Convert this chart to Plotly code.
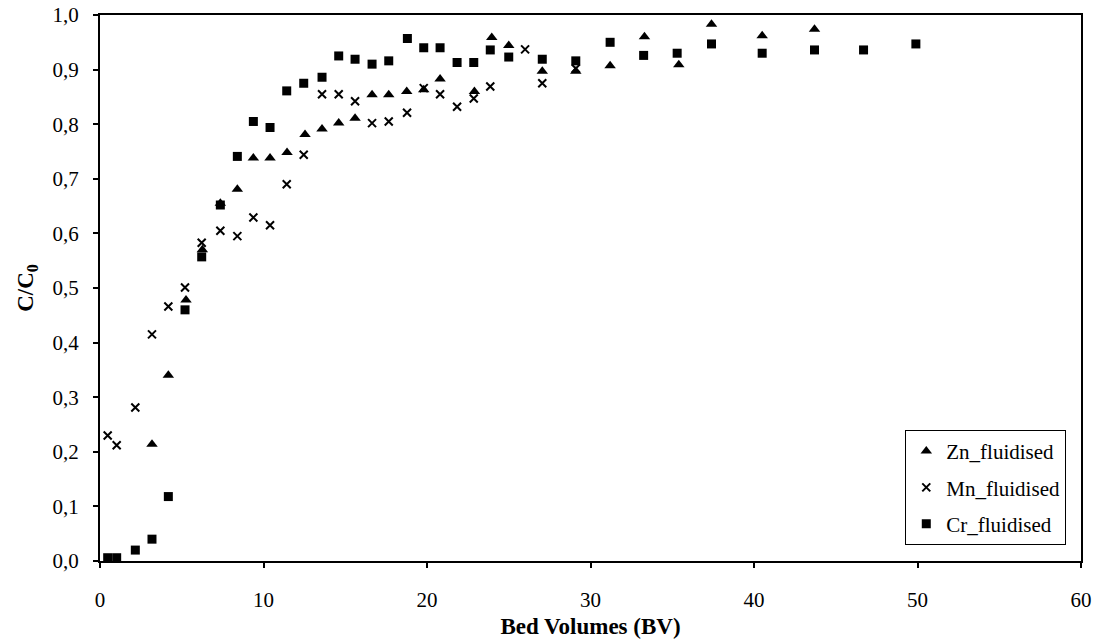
import plotly.graph_objects as go

zn_x = [3.18, 4.18, 5.26, 6.26, 7.36, 8.4, 9.38, 10.4, 11.44, 12.54, 13.58, 14.6, 15.6, 16.64, 17.66,
        18.76, 19.8, 20.8, 22.9, 23.96, 25.0, 27.05, 29.1, 31.2, 33.3, 35.4, 37.4, 40.5, 43.7]
zn_y = [0.214, 0.340, 0.478, 0.570, 0.655, 0.681, 0.738, 0.738, 0.748, 0.781, 0.791, 0.802, 0.811, 0.854, 0.854,
        0.860, 0.863, 0.883, 0.860, 0.959, 0.944, 0.897, 0.897, 0.907, 0.960, 0.909, 0.983, 0.962, 0.974]

mn_x = [0.47, 1.02, 2.16, 3.18, 4.18, 5.2, 6.22, 7.36, 8.4, 9.38, 10.4, 11.42, 12.46, 13.58, 14.6, 15.6,
        16.64, 17.66, 18.78, 19.8, 20.8, 21.84, 22.86, 23.87, 26.0, 27.05, 29.1]
mn_y = [0.230, 0.212, 0.281, 0.415, 0.466, 0.501, 0.583, 0.605, 0.595, 0.629, 0.615, 0.690, 0.744, 0.855, 0.855, 0.842,
        0.802, 0.805, 0.821, 0.866, 0.855, 0.832, 0.847, 0.869, 0.937, 0.875, 0.902]

cr_x = [0.47, 1.02, 2.16, 3.18, 4.18, 5.2, 6.22, 7.36, 8.4, 9.38, 10.4, 11.42, 12.46, 13.58, 14.6, 15.6,
        16.64, 17.66, 18.8, 19.8, 20.8, 21.84, 22.86, 23.87, 25.0, 27.05, 29.1, 31.2, 33.25, 35.3, 37.4,
        40.5, 43.7, 46.7, 49.9]
cr_y = [0.006, 0.006, 0.020, 0.040, 0.118, 0.460, 0.557, 0.652, 0.741, 0.805, 0.794, 0.861, 0.875, 0.886, 0.925, 0.919,
        0.910, 0.916, 0.957, 0.940, 0.940, 0.913, 0.913, 0.936, 0.923, 0.919, 0.916, 0.950, 0.926, 0.930, 0.947,
        0.930, 0.936, 0.936, 0.947]

y_ticks = [0.0, 0.1, 0.2, 0.3, 0.4, 0.5, 0.6, 0.7, 0.8, 0.9, 1.0]
y_labels = ["0,0", "0,1", "0,2", "0,3", "0,4", "0,5", "0,6", "0,7", "0,8", "0,9", "1,0"]
x_ticks = [0, 10, 20, 30, 40, 50, 60]

FONT = "Liberation Serif"

fig = go.Figure()
fig.add_trace(go.Scatter(x=zn_x, y=zn_y, mode="markers", name="Zn_fluidised", legendgroup="a",
                         marker=dict(symbol="triangle-up", size=10, color="black")))
fig.add_trace(go.Scatter(x=mn_x, y=mn_y, mode="markers", name="Mn_fluidised", legendgroup="b",
                         marker=dict(symbol="x-thin", size=8, color="black",
                                     line=dict(width=2, color="black"))))
fig.add_trace(go.Scatter(x=cr_x, y=cr_y, mode="markers", name="Cr_fluidised", legendgroup="c",
                         marker=dict(symbol="square", size=9, color="black")))

fig.update_layout(
    width=1100, height=642,
    margin=dict(l=100, r=19, t=15, b=81, autoexpand=False),
    paper_bgcolor="white", plot_bgcolor="white",
    font=dict(family=FONT, size=21, color="black"),
    legend=dict(x=0.985, y=0.24, xanchor="right", yanchor="top",
                bordercolor="black", borderwidth=1, bgcolor="white",
                font=dict(family=FONT, size=21), tracegroupgap=6,
                itemwidth=30),
    xaxis=dict(range=[0, 60], tickvals=x_ticks, showgrid=False, zeroline=False, automargin=False,
               showline=True, linecolor="black", linewidth=2, mirror=True,
               ticks="outside", ticklen=5, tickwidth=2, tickcolor="black",
               ticklabelstandoff=14,
               tickfont=dict(family=FONT, size=21),
               title=dict(text="<b>Bed Volumes (BV)</b>", font=dict(family=FONT, size=23), standoff=7)),
    yaxis=dict(range=[0, 1.0], tickvals=y_ticks, ticktext=y_labels, showgrid=False, zeroline=False,
               automargin=False,
               showline=True, linecolor="black", linewidth=2, mirror=True,
               ticks="outside", ticklen=5, tickwidth=2, tickcolor="black",
               ticklabelstandoff=10,
               tickfont=dict(family=FONT, size=21),
               title=dict(text="<b>C/C<sub>0</sub></b>", font=dict(family=FONT, size=23), standoff=12)),
)

fig.write_html("out.html", config={"displayModeBar": False},
               post_script="document.body.style.margin='0';document.body.style.overflow='hidden';")
